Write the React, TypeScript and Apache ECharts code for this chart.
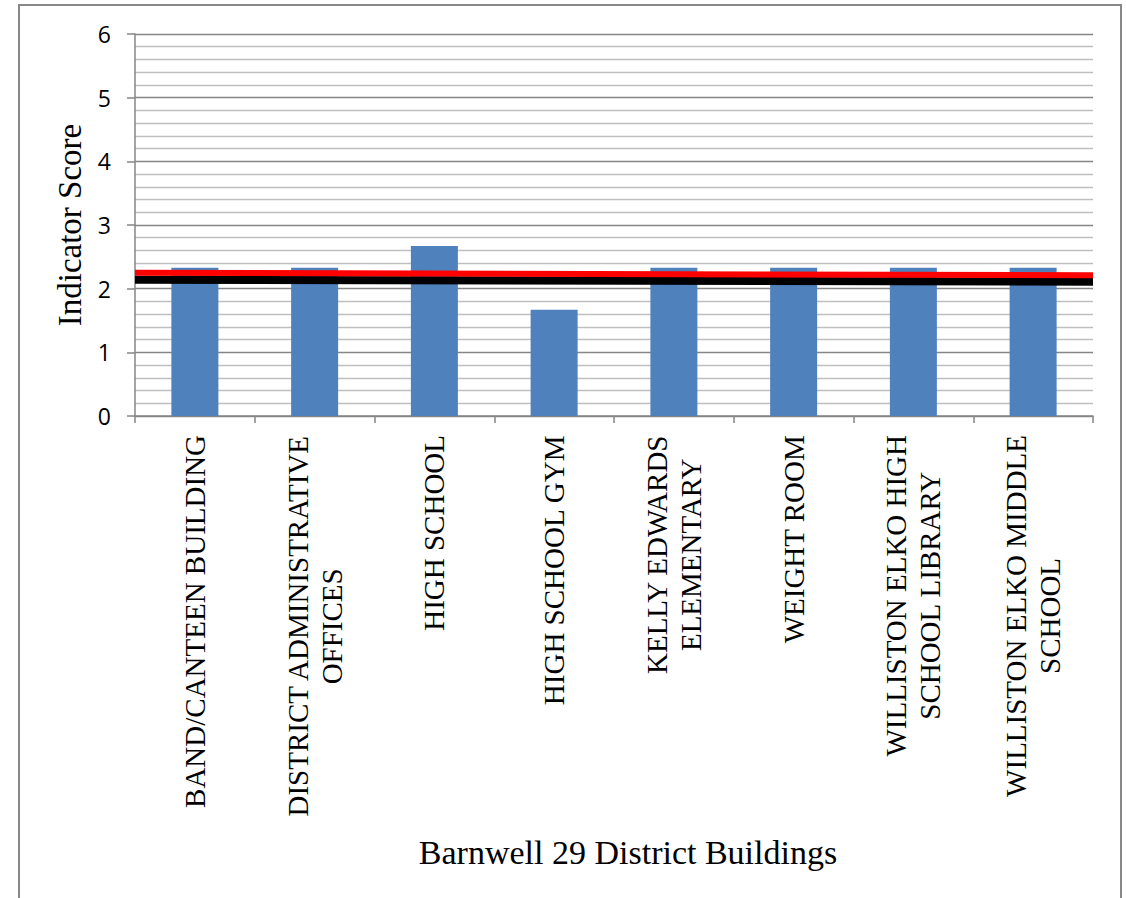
import React, { useEffect, useRef } from "react";
import * as echarts from "echarts";

const categories = [
  "BAND/CANTEEN BUILDING",
  "DISTRICT ADMINISTRATIVE\nOFFICES",
  "HIGH SCHOOL",
  "HIGH SCHOOL GYM",
  "KELLY EDWARDS\nELEMENTARY",
  "WEIGHT ROOM",
  "WILLISTON ELKO HIGH\nSCHOOL LIBRARY",
  "WILLISTON ELKO MIDDLE\nSCHOOL",
];
const scores = [2.33, 2.33, 2.67, 1.67, 2.33, 2.33, 2.33, 2.33];
const redLine = [
  [0, 2.25],
  [1, 2.21],
];
const blackLine = [
  [0, 2.14],
  [1, 2.11],
];
const yMin = 0;
const yMax = 6;
const yInterval = 1;
const xAxisTitle = "Barnwell 29 District Buildings";
const yAxisTitle = "Indicator Score";

const SERIF = "'Liberation Serif', 'Times New Roman', serif";
const SANS = "'Open Sans', 'Noto Sans', sans-serif";

export default function App() {
  const ref = useRef<HTMLDivElement>(null);
  useEffect(() => {
    if (!ref.current) return;
    const chart = echarts.init(ref.current, undefined, { renderer: "svg" });
    chart.setOption({
      animation: false,
      backgroundColor: "#ffffff",
      grid: {
        left: 135,
        right: 33,
        top: 34,
        bottom: 482,
        containLabel: false,
        outerBoundsMode: "none",
      },
      xAxis: [
        {
          type: "category",
          data: categories,
          axisLine: { show: true, lineStyle: { color: "#868686", width: 1.5 } },
          axisTick: {
            show: true,
            interval: 0,
            length: 7,
            alignWithLabel: false,
            lineStyle: { color: "#868686", width: 1.5 },
          },
          axisLabel: {
            interval: 0,
            rotate: 90,
            margin: 19,
            hideOverlap: false,
            formatter: (v: string) =>
              v
                .split("\n")
                .map((l) => `{c|${l}}`)
                .join("\n"),
            rich: {
              c: {
                align: "center",
                fontFamily: SERIF,
                fontSize: 29,
                lineHeight: 34,
                color: "#000000",
              },
            },
          },
          splitLine: { show: false },
        },
        {
          type: "value",
          min: 0,
          max: 1,
          show: false,
          gridIndex: 0,
        },
      ],
      yAxis: {
        type: "value",
        min: yMin,
        max: yMax,
        interval: yInterval,
        name: yAxisTitle,
        nameLocation: "middle",
        nameGap: 49,
        nameRotate: 90,
        nameTextStyle: { fontFamily: SERIF, fontSize: 33, color: "#000000" },
        axisLine: { show: true, lineStyle: { color: "#868686", width: 1.5 } },
        axisTick: {
          show: true,
          length: 8,
          lineStyle: { color: "#868686", width: 1.5 },
        },
        axisLabel: {
          margin: 24,
          fontFamily: SANS,
          fontSize: 23,
          color: "#000000",
        },
        splitLine: { show: true, lineStyle: { color: "#868686", width: 1.4 } },
        minorTick: { show: false, splitNumber: 5 },
        minorSplitLine: {
          show: true,
          lineStyle: { color: "#BFBFBF", width: 1.4 },
        },
      },
      graphic: [
        {
          type: "rect",
          shape: { x: 19, y: 5, width: 1102, height: 1000 },
          style: { fill: "none", stroke: "#888888", lineWidth: 2 },
          silent: true,
        },
        {
          type: "text",
          x: 628,
          y: 852,
          style: {
            text: xAxisTitle,
            fontFamily: SERIF,
            fontSize: 34,
            fill: "#000000",
            align: "center",
            verticalAlign: "middle",
          },
        },
      ],
      series: [
        {
          type: "bar",
          data: scores,
          barWidth: 47,
          itemStyle: { color: "#4F81BD" },
        },
        {
          type: "line",
          xAxisIndex: 1,
          data: blackLine,
          symbol: "none",
          lineStyle: { color: "#000000", width: 8 },
        },
        {
          type: "line",
          xAxisIndex: 1,
          data: redLine,
          symbol: "none",
          lineStyle: { color: "#FF0000", width: 6 },
        },
      ],
    });
    return () => chart.dispose();
  }, []);
  return (
    <div
      ref={ref}
      style={{ position: "fixed", left: 0, top: 0, width: 1126, height: 898 }}
    />
  );
}
